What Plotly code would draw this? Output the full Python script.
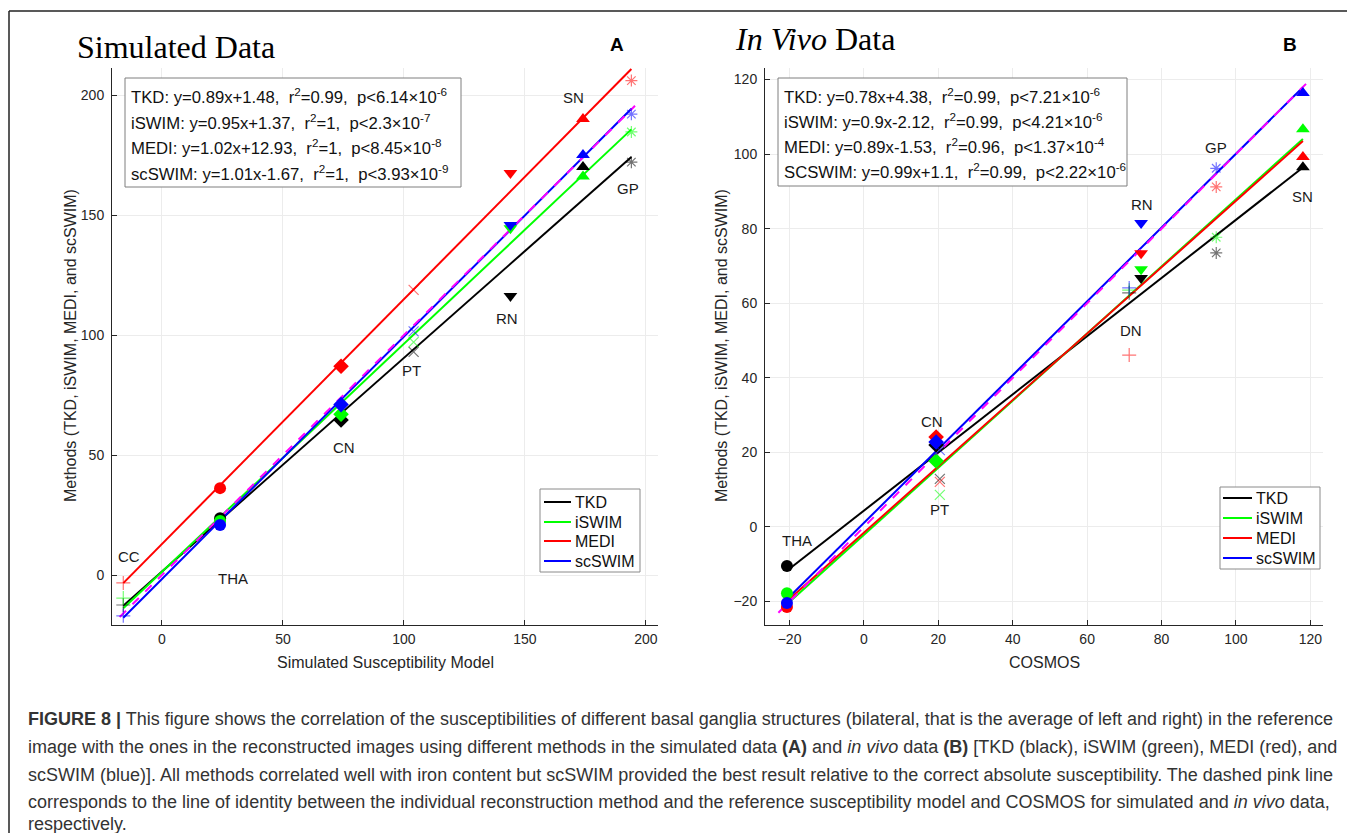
import plotly.graph_objects as go

# page body has an 8px margin: the figure is sized so that it fills the window
OFF = 8
W, H = 1355 - OFF, 833 - OFF

# ---------------- data ----------------
methods = ["TKD", "iSWIM", "MEDI", "scSWIM"]
method_colors = ["#000000", "#00FF00", "#FF0000", "#0000FF"]

# Panel A: simulated data
sim_regions = ["CC", "THA", "CN", "PT", "RN", "SN", "GP"]
sim_ref = [-16, 24, 74, 104, 144, 174, 194]
sim_tkd = [-12.5, 23.7, 64.6, 93.0, 116.3, 170.0, 172.0]
sim_iswim = [-9.6, 22.5, 67.0, 97.0, 144.5, 166.0, 184.6]
sim_medi = [-3.3, 36.2, 87.0, 118.8, 167.5, 190.0, 206.0]
sim_scswim = [-17.0, 20.8, 71.0, 101.5, 145.8, 175.0, 192.0]
sim_slope = [0.89, 0.95, 1.02, 1.01]
sim_icpt = [1.48, 1.37, 12.93, -1.67]
sim_r2 = ["0.99", "1", "1", "1"]
sim_p_mant = ["6.14", "2.3", "8.45", "3.93"]
sim_p_exp = ["-6", "-7", "-8", "-9"]
sim_eq_names = ["TKD", "iSWIM", "MEDI", "scSWIM"]

# Panel B: in vivo data
viv_regions = ["THA", "CN", "PT", "DN", "RN", "GP", "SN"]
viv_ref = [-20.7, 19.4, 20.4, 71.3, 74.5, 94.7, 118.0]
viv_tkd = [-10.5, 22.0, 12.9, 62.8, 66.8, 73.5, 96.5]
viv_iswim = [-17.8, 17.7, 8.6, 63.5, 69.1, 77.7, 106.7]
viv_medi = [-21.5, 24.1, 12.1, 46.1, 73.4, 91.2, 99.2]
viv_scswim = [-20.4, 22.8, 20.6, 64.1, 81.5, 96.2, 116.4]
viv_slope = [0.78, 0.90, 0.89, 0.99]
viv_icpt = [4.38, -2.12, -1.53, 1.10]
viv_r2 = ["0.99", "0.99", "0.96", "0.99"]
viv_p_mant = ["7.21", "4.21", "1.37", "2.22"]
viv_p_exp = ["-6", "-6", "-4", "-6"]
viv_eq_names = ["TKD", "iSWIM", "MEDI", "SCSWIM"]

sim_ticks = [0, 50, 100, 150, 200]
viv_ticks = [-20, 0, 20, 40, 60, 80, 100, 120]

# ---------------- styles / layout helpers ----------------
sim_symbols = ["cross-thin-open", "circle", "diamond", "x-thin-open",
               "triangle-down", "triangle-up", "asterisk-open"]
viv_symbols = ["circle", "diamond", "x-thin-open", "cross-thin-open",
               "triangle-down", "asterisk-open", "triangle-up"]
thin = {"cross-thin-open", "x-thin-open", "asterisk-open"}

sim_label_pos = [(-13.6, 7.9), (29.3, -1.3), (75.2, 53.3), (103.3, 85.4),
                 (142.6, 107.0), (170.0, 199.0), (192.6, 161.0)]
viv_label_pos = [(-18.0, -3.5), (18.3, 28.4), (20.4, 4.6), (71.8, 52.8),
                 (74.8, 86.6), (94.7, 101.9), (117.8, 88.7)]


def px_x(p):
    return (p - OFF) / W


def px_y(p):
    return 1 - (p - OFF) / H


FONT = "Arial, Liberation Sans, Helvetica, sans-serif"
fig = go.Figure()


def add_panel(xs, ys, ref, vals_list, symbols, slopes, icpts, ident_pad):
    lo, hi = min(ref), max(ref)
    for name, col, s, b in zip(methods, method_colors, slopes, icpts):
        fig.add_trace(go.Scatter(
            x=[lo, hi], y=[s * lo + b, s * hi + b], mode="lines",
            line=dict(color=col, width=2), name=name, xaxis=xs, yaxis=ys,
            showlegend=False, hoverinfo="skip"))
    fig.add_trace(go.Scatter(
        x=[lo - ident_pad[0], hi + ident_pad[1]],
        y=[lo - ident_pad[0], hi + ident_pad[1]], mode="lines",
        line=dict(color="#FF00FF", width=2, dash="dash"),
        xaxis=xs, yaxis=ys, showlegend=False, hoverinfo="skip"))
    for name, col, vals in zip(methods, method_colors, vals_list):
        fig.add_trace(go.Scatter(
            x=ref, y=vals, mode="markers", name=name, xaxis=xs, yaxis=ys,
            showlegend=False,
            marker=dict(
                symbol=symbols, color=col,
                size=[10 if s in thin else 12 for s in symbols],
                opacity=[0.55 if s in thin else 1.0 for s in symbols],
                line=dict(color=col, width=[1.2 if s in thin else 0 for s in symbols]))))


add_panel("x", "y", sim_ref, [sim_tkd, sim_iswim, sim_medi, sim_scswim],
          sim_symbols, sim_slope, sim_icpt, (1.5, 1.5))
add_panel("x2", "y2", viv_ref, [viv_tkd, viv_iswim, viv_medi, viv_scswim],
          viv_symbols, viv_slope, viv_icpt, (2.3, 1.5))

annotations = []
shapes = []


def ann(x, y, text, size, xanchor="center", yanchor="middle", xref="paper", yref="paper",
        family=FONT, color="#1a1a1a", **kw):
    annotations.append(dict(x=x, y=y, xref=xref, yref=yref, text=text, showarrow=False,
                            xanchor=xanchor, yanchor=yanchor,
                            font=dict(family=family, size=size, color=color), **kw))


# region labels
for lab, (lx, ly) in zip(sim_regions, sim_label_pos):
    ann(lx, ly, lab, 15, xref="x", yref="y")
for lab, (lx, ly) in zip(viv_regions, viv_label_pos):
    ann(lx, ly, lab, 15, xref="x2", yref="y2")


# equation boxes
def eq_box(names, slopes, icpts, r2s, pm, pe, x0, x1, y0, y1, line_y, text_x):
    shapes.append(dict(type="rect", xref="paper", yref="paper",
                       x0=px_x(x0), x1=px_x(x1), y0=px_y(y1), y1=px_y(y0),
                       line=dict(color="#7f7f7f", width=1), fillcolor="white", layer="above"))
    for n, s, b, r, m, e, yy in zip(names, slopes, icpts, r2s, pm, pe, line_y):
        txt = (f"{n}: y={s:g}x{b:+g},&nbsp; r<sup>2</sup>={r},&nbsp; "
               f"p&lt;{m}\u00d710<sup>{e}</sup>")
        ann(px_x(text_x), px_y(yy), txt, 16.7, xanchor="left", color="#111111")


eq_box(sim_eq_names, sim_slope, sim_icpt, sim_r2, sim_p_mant, sim_p_exp,
       125, 461, 78, 187, [96, 121.5, 147, 172.5], 129)
eq_box(viv_eq_names, viv_slope, viv_icpt, viv_r2, viv_p_mant, viv_p_exp,
       778, 1127, 78, 186, [96, 121, 146, 171], 782)

# panel titles
SERIF = "Liberation Serif, Times New Roman, serif"
ann(px_x(75), px_y(47), "Simulated Data", 32, xanchor="left", family=SERIF, color="#000")
ann(px_x(733), px_y(39), "<i>In Vivo</i> Data", 32, xanchor="left", family=SERIF, color="#000")
ann(px_x(617), px_y(45), "<b>A</b>", 19, color="#000")
ann(px_x(1290), px_y(45), "<b>B</b>", 19, color="#000")

# axis titles
ann(px_x(385), px_y(662), "Simulated Susceptibility Model", 16, color="#262626")
ann(px_x(1044), px_y(662), "COSMOS", 16, color="#262626")
ann(px_x(70), px_y(346), "Methods (TKD, iSWIM, MEDI, and scSWIM)", 16, color="#262626",
    textangle=-90)
ann(px_x(721), px_y(346), "Methods (TKD, iSWIM, MEDI, and scSWIM)", 16, color="#262626",
    textangle=-90)


# legends (drawn as boxes with line samples)
def legend_box(x0, x1, y0, y1, rows, line_x0, line_x1, text_x):
    shapes.append(dict(type="rect", xref="paper", yref="paper",
                       x0=px_x(x0), x1=px_x(x1), y0=px_y(y1), y1=px_y(y0),
                       line=dict(color="#8a8a8a", width=1), fillcolor="white", layer="above"))
    for name, col, ry in zip(methods, method_colors, rows):
        shapes.append(dict(type="line", xref="paper", yref="paper",
                           x0=px_x(line_x0), x1=px_x(line_x1), y0=px_y(ry), y1=px_y(ry),
                           line=dict(color=col, width=2), layer="above"))
        ann(px_x(text_x), px_y(ry), name, 16, xanchor="left", color="#111")


legend_box(540, 640, 489, 572, [502, 522, 541, 561], 544, 571, 573)
legend_box(1220, 1320, 487, 569, [498, 518, 538, 558], 1223, 1252, 1254)

# caption
caption_lines = [
    "<b>FIGURE 8 |</b> This figure shows the correlation of the susceptibilities of different basal ganglia structures (bilateral, that is the average of left and right) in the reference",
    "image with the ones in the reconstructed images using different methods in the simulated data <b>(A)</b> and <i>in vivo</i> data <b>(B)</b> [TKD (black), iSWIM (green), MEDI (red), and",
    "scSWIM (blue)]. All methods correlated well with iron content but scSWIM provided the best result relative to the correct absolute susceptibility. The dashed pink line",
    "corresponds to the line of identity between the individual reconstruction method and the reference susceptibility model and COSMOS for simulated and <i>in vivo</i> data,",
    "respectively.",
]
cap_y = [719, 747, 775, 802, 824]
for t, yy in zip(caption_lines, cap_y):
    ann(px_x(26), px_y(yy), t, 18, xanchor="left", color="#333333")

# frame lines
shapes += [
    dict(type="line", xref="paper", yref="paper", x0=px_x(9), x1=1, y0=px_y(11), y1=px_y(11),
         line=dict(color="#222", width=1.5)),
    dict(type="line", xref="paper", yref="paper", x0=px_x(9), x1=px_x(9), y0=0, y1=px_y(11),
         line=dict(color="#222", width=1.5)),
]

tick_font = dict(family=FONT, size=14, color="#262626")
common = dict(showline=True, linecolor="#262626", linewidth=1, ticks="inside", ticklen=5,
              tickcolor="#262626", showgrid=True, gridcolor="#ececec", gridwidth=1,
              zeroline=False, tickfont=tick_font)

fig.update_layout(
    width=W, height=H, margin=dict(l=0, r=0, t=0, b=0),
    paper_bgcolor="white", plot_bgcolor="white", showlegend=False,
    xaxis=dict(domain=[px_x(112), px_x(658)], range=[-20.66, 205], tickvals=sim_ticks,
               anchor="y", ticklabelstandoff=1, **common),
    yaxis=dict(domain=[px_y(625), px_y(68)], range=[-20.83, 211.25], tickvals=sim_ticks,
               anchor="x", ticklabelstandoff=4, **common),
    xaxis2=dict(domain=[px_x(765), px_x(1323)], range=[-26.6, 123.4], tickvals=viv_ticks,
                anchor="y2", ticklabelstandoff=1, **common),
    yaxis2=dict(domain=[px_y(625), px_y(68)], range=[-26.3, 123.1], tickvals=viv_ticks,
                anchor="x2", ticklabelstandoff=4, **common),
    annotations=annotations, shapes=shapes,
)

fig.write_html("out.html")
